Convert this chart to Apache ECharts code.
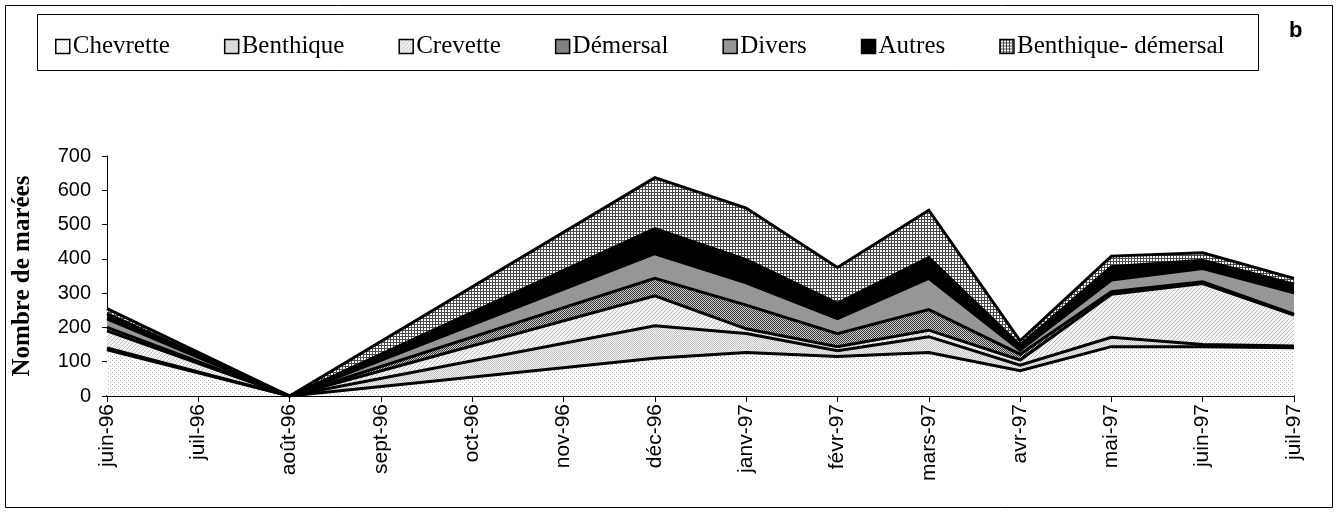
<!DOCTYPE html>
<html><head><meta charset="utf-8">
<script src="https://cdn.jsdelivr.net/npm/echarts@6/dist/echarts.min.js"></script>
<style>html,body{margin:0;padding:0;background:#fff}#c{width:1338px;height:513px}</style>
</head><body><div id="c"></div>
<script>
// ---- data ----
const categories = ['juin-96','juil-96','août-96','sept-96','oct-96','nov-96','déc-96','janv-97','févr-97','mars-97','avr-97','mai-97','juin-97','juil-97'];
const seriesNames = ['Chevrette','Benthique','Crevette','Démersal','Divers','Autres','Benthique- démersal'];
// null = month without data (the reference joins the neighbouring months with a straight line)
const chevrette         = [135, null, 0, null, null, null, 110, 127, 115, 127, 74, 144, 144, 141];
const benthique         = [  5, null, 0, null, null, null,  95,  55,  17,  46, 16,  27,   6,   5];
const crevette          = [ 50, null, 0, null, null, null,  87,  14,  12,  19, 15, 126, 178,  90];
const demersal          = [ 10, null, 0, null, null, null,  51,  69,  38,  60, 17,   7,   5,   3];
const divers            = [ 25, null, 0, null, null, null,  72,  65,  44,  91, 12,  34,  39,  62];
const autres            = [ 15, null, 0, null, null, null,  73,  68,  44,  61, 14,  39,  24,  25];
const benthiqueDemersal = [ 15, null, 0, null, null, null, 149, 150, 105, 138, 13,  31,  22,  17];
const yMin = 0, yMax = 700, yStep = 100;
const yTitle = 'Nombre de marées';
const panelLabel = 'b';

const values = [chevrette, benthique, crevette, demersal, divers, autres, benthiqueDemersal];

// [value, categoryIndex] pairs for the months that have data
function toPairs(arr) {
  const out = [];
  arr.forEach((v, i) => { if (v !== null) out.push([v, i]); });
  return out;
}

// ---- fill patterns ----
function pat(size, draw) {
  const c = document.createElement('canvas');
  c.width = c.height = size;
  const g = c.getContext('2d');
  draw(g, size);
  return { image: c, repeat: 'repeat' };
}
const patterns = [
  pat(4, (g) => { g.fillStyle = '#fff'; g.fillRect(0,0,4,4); g.fillStyle = '#b8b8b8'; g.fillRect(0,0,1,1); g.fillRect(2,2,1,1); }),
  pat(2, (g) => { g.fillStyle = '#f2f2f2'; g.fillRect(0,0,2,2); g.fillStyle = '#c4c4c4'; g.fillRect(0,0,1,1); g.fillRect(1,1,1,1); }),
  pat(4, (g) => { g.fillStyle = '#f4f4f4'; g.fillRect(0,0,4,4); g.fillStyle = '#bdbdbd'; for (let i=0;i<4;i++) g.fillRect(i,3-i,1,1); }),
  pat(2, (g) => { g.fillStyle = '#c8c8c8'; g.fillRect(0,0,2,2); g.fillStyle = '#3a3a3a'; g.fillRect(0,0,1,1); g.fillRect(1,1,1,1); }),
  '#969696',
  '#000000',
  pat(3, (g) => { g.fillStyle = '#ffffff'; g.fillRect(0,0,3,3); g.fillStyle = '#4a4a4a'; g.fillRect(0,0,3,1); g.fillRect(0,0,1,3); })
];

const series = [];
values.forEach((arr, i) => {
  series.push({
    name: seriesNames[i], type: 'line', stack: 'area', data: toPairs(arr),
    encode: { x: 1, y: 0 },
    symbol: 'none', showSymbol: false,
    lineStyle: { width: 0, color: 'transparent' },
    itemStyle: { color: patterns[i], borderColor: '#000', borderWidth: 1.5 },
    areaStyle: { color: patterns[i], opacity: 1 },
    z: 2, silent: true
  });
});
values.forEach((arr, i) => {
  series.push({
    name: '_line' + i, type: 'line', stack: 'lines', data: toPairs(arr),
    encode: { x: 1, y: 0 },
    symbol: 'none', showSymbol: false,
    lineStyle: { width: 3, color: '#000', join: 'miter' },
    z: 3, silent: true
  });
});

const chart = echarts.init(document.getElementById('c'), null, { renderer: 'canvas' });
chart.setOption({
  animation: false,
  backgroundColor: '#fff',
  grid: { left: 107, right: 44, top: 156, bottom: 117 },
  legend: {
    data: seriesNames.map((n, i) => ({ name: n, itemStyle: { color: patterns[i], borderColor: '#000', borderWidth: 1.5 } })),
    icon: 'rect', left: 50, top: 29, itemWidth: 14, itemHeight: 14, itemGap: 54,
    textStyle: { fontFamily: 'Liberation Serif', fontSize: 25, color: '#000', padding: [0,0,0,-2] },
    selectedMode: false
  },
  graphic: [
    { type: 'rect', shape: { x: 5.5, y: 5.5, width: 1327, height: 502 }, style: { fill: 'none', stroke: '#000', lineWidth: 1 }, z: 0 },
    { type: 'rect', shape: { x: 37.5, y: 14.5, width: 1221, height: 56 }, style: { fill: 'none', stroke: '#000', lineWidth: 1 }, z: 0 },
    { type: 'text', left: 1289, top: 20, style: { text: panelLabel, font: 'bold 22px "Liberation Sans"', fill: '#000' } }
  ],
  xAxis: {
    type: 'value', min: 0, max: categories.length - 1, interval: 1,
    axisLine: { show: true, onZero: false, lineStyle: { color: '#000', width: 2 } },
    axisTick: { show: true, length: 6, lineStyle: { color: '#000', width: 1 } },
    axisLabel: { rotate: 90, margin: 8, fontFamily: 'Liberation Sans', fontSize: 21, color: '#000',
      formatter: (v) => categories[v] || '' },
    splitLine: { show: false }
  },
  yAxis: {
    type: 'value', min: yMin, max: yMax, interval: yStep,
    name: yTitle, nameLocation: 'middle', nameGap: 72, nameRotate: 90,
    nameTextStyle: { fontFamily: 'Liberation Serif', fontWeight: 'bold', fontSize: 25, color: '#000' },
    axisLine: { show: true, lineStyle: { color: '#000', width: 1 } },
    axisTick: { show: true, length: 5, lineStyle: { color: '#000' } },
    axisLabel: { fontFamily: 'Liberation Sans', fontSize: 20, color: '#000', margin: 16 },
    splitLine: { show: false }
  },
  series: series
});
</script></body></html>
